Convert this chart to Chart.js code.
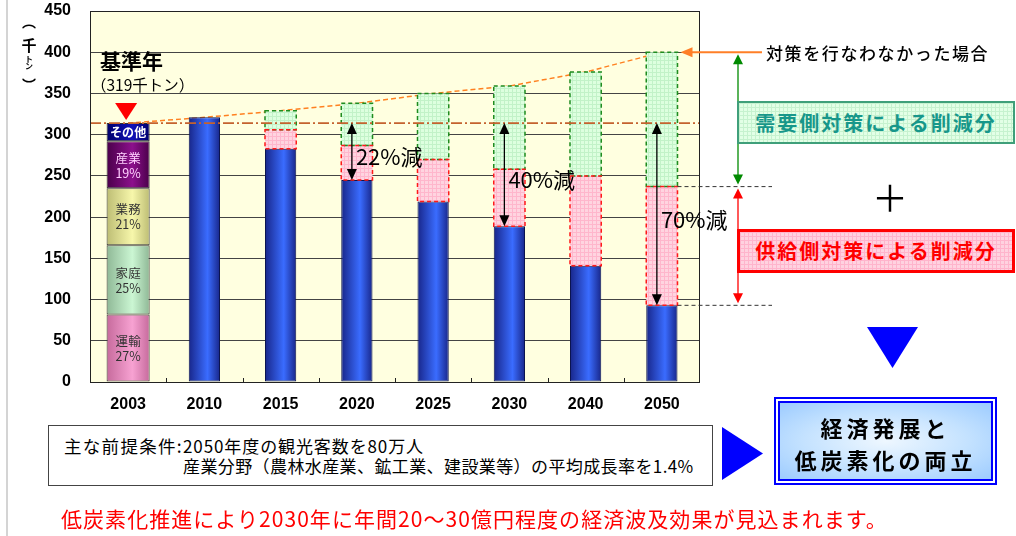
<!DOCTYPE html>
<html lang="ja">
<head>
<meta charset="utf-8">
<title>CO2排出量の将来推計</title>
<script src="https://cdn.jsdelivr.net/npm/chart.js@4.4.1/dist/chart.umd.min.js"></script>
<style>
  body { margin: 0; background: #fff; }
  #page { position: relative; width: 1016px; height: 536px; overflow: hidden; font-family: "Noto Sans CJK JP", sans-serif; color: #000; }
  #chart { position: absolute; left: 0; top: 0; }
  .abs { position: absolute; white-space: nowrap; }
  .yt { position: absolute; left: 19px; width: 20px; text-align: center; font-weight: bold; }
  .gridbg { background-size: 4px 4px; }
</style>
</head>
<body>
<div id="page">
  <div class="abs" style="left:6px;top:0;width:2px;height:536px;background:#d4d4d4"></div>
  <canvas id="chart" width="1016" height="536"></canvas>

  <!-- y axis unit -->
  <div class="yt" style="top:13px;font-size:14px;line-height:16px">︵</div>
  <div class="yt" style="top:37px;font-size:15px;line-height:16px">千</div>
  <div class="yt" style="top:55px;font-size:8px;line-height:7px">ト<br>ン</div>
  <div class="yt" style="top:76px;font-size:14px;line-height:16px">︶</div>

  <div class="abs" style="left:100px;top:47px;font-size:21px;font-weight:bold;line-height:26px">基準年</div>
  <div class="abs" style="left:91px;top:74px;font-size:15.5px;line-height:20px">（319千トン）</div>

  <div class="abs" style="left:766px;top:42px;font-size:17px;font-weight:500;line-height:22px;letter-spacing:1.6px">対策を行なわなかった場合</div>

  <div class="abs gridbg" style="left:737px;top:101px;width:274px;height:39px;border:2px solid #3f9f7a;background-color:#e2ffe6;background-image:linear-gradient(#c6f2cf 1px,transparent 1px),linear-gradient(90deg,#c6f2cf 1px,transparent 1px);
    font-size:20px;font-weight:bold;color:#17978a;line-height:39px;text-align:center;letter-spacing:2px">需要側対策による削減分</div>

  <div class="abs" style="left:872px;top:174px;font-size:36px;line-height:44px">＋</div>

  <div class="abs gridbg" style="left:737px;top:229px;width:272px;height:38px;border:3px solid #ff0000;background-color:#ffd2e0;background-image:linear-gradient(#ffb4cc 1px,transparent 1px),linear-gradient(90deg,#ffb4cc 1px,transparent 1px);
    font-size:20px;font-weight:bold;color:#ff0000;line-height:38px;text-align:center;letter-spacing:2px">供給側対策による削減分</div>

  <svg class="abs" style="left:0;top:0" width="1016" height="536">
    <polygon points="867,327 918,327 892.5,368" fill="#0000ff"/>
    <polygon points="722,427 722,480 763,453.5" fill="#0000ff"/>
  </svg>

  <div class="abs" style="left:774px;top:397px;width:211px;height:76px;border:6px double #0000ff;background-clip:padding-box;
    background-image:radial-gradient(ellipse at center,#eef7ff 0%,#c4e2ff 55%,#9ccbff 100%);text-align:center;font-size:22px;font-weight:bold;line-height:32px;letter-spacing:4px">
    <div style="margin-top:8px">経済発展と</div>
    <div>低炭素化の両立</div>
  </div>

  <div class="abs" style="left:48px;top:425px;width:663px;height:59px;border:1px solid #444;background:#fff"></div>
  <div class="abs" style="left:64px;top:436px;font-size:17.5px;line-height:20px;letter-spacing:1.3px">主な前提条件:</div>
  <div class="abs" style="left:183px;top:436px;font-size:17px;line-height:20px;letter-spacing:0.4px"><span style="letter-spacing:0.9px">2050年度の観光客数を80万人</span><br>産業分野（農林水産業、鉱工業、建設業等）の平均成長率を1.4%</div>

  <div class="abs" style="left:61px;top:505px;font-size:21px;line-height:26px;color:#ff0000;letter-spacing:1.05px">低炭素化推進により2030年に年間20～30億円程度の経済波及効果が見込まれます。</div>
</div>

<script>
// categories
const years = ['2003', '2010', '2015', '2020', '2025', '2030', '2040', '2050'];

// 2003 base year breakdown (千トン), bottom to top
const baseParts = ['運輸', '家庭', '業務', '産業', 'その他'];
const baseShares = ['27%', '25%', '21%', '19%', ''];
const baseValues = [82, 84, 69, 57, 22];

// emissions with measures (blue bars)
const withMeasures = [null, 321, 283, 245, 219, 189, 141, 93];
// top of the supply-side reduction (red boxes)
const supplyTop = [null, null, 306, 287, 270, 258, 250, 237];
// no measures case (green box tops + orange dashed line)
const noMeasures = [314, 321, 329, 338, 350, 359, 376, 400];

// reduction labels
const cutLabels = [null, null, null, '22%減', null, '40%減', null, '70%減'];

const baseTotal = baseValues.reduce((a, b) => a + b, 0);

const partColors = [
  ['#c66a9c', '#f7a2d2'],
  ['#8fb896', '#cbf6d3'],
  ['#bdbd74', '#f7f7ab'],
  ['#4a004a', '#8c108c'],
  ['#00006a', '#1010b8']
];
const partText = ['#333', '#333', '#333', '#ffd0ff', '#ffffff'];

function hGrad(edge, mid, pct) {
  return (c) => {
    const ch = c.chart;
    const xs = ch.scales && ch.scales.x;
    if (c.type !== 'data' || !xs || !ch.chartArea) return mid;
    const w = (xs.width / years.length) * pct;
    const cx = xs.getPixelForValue(c.dataIndex);
    const g = ch.ctx.createLinearGradient(cx - w / 2, 0, cx + w / 2, 0);
    g.addColorStop(0, edge);
    g.addColorStop(0.6, mid);
    g.addColorStop(1, edge);
    return g;
  };
}

function gridPattern(bg, line) {
  const c = document.createElement('canvas');
  c.width = 4; c.height = 4;
  const g = c.getContext('2d');
  g.fillStyle = bg; g.fillRect(0, 0, 4, 4);
  g.fillStyle = line; g.fillRect(0, 0, 4, 1); g.fillRect(0, 0, 1, 4);
  return g.createPattern(c, 'repeat');
}

const BASE_PCT = 0.565;
const BAR_PCT = 0.41;

const datasets = baseParts.map((name, k) => ({
  label: name,
  data: years.map((y, i) => i === 0 ? baseValues[k] : null),
  backgroundColor: hGrad(partColors[k][0], partColors[k][1], BASE_PCT),
  borderColor: '#333',
  borderWidth: 1,
  borderSkipped: false,
  barPercentage: BASE_PCT,
  categoryPercentage: 1
}));

datasets.push({
  label: '対策後',
  data: withMeasures,
  backgroundColor: hGrad('#18268a', '#3a6cff', BAR_PCT),
  borderColor: '#0b1450',
  borderWidth: 1,
  borderSkipped: false,
  barPercentage: BAR_PCT,
  categoryPercentage: 1
});
datasets.push({
  label: '供給側',
  data: years.map((y, i) => supplyTop[i] != null ? supplyTop[i] - withMeasures[i] : null),
  backgroundColor: gridPattern('#ffd4e0', '#ffb6cc'),
  borderWidth: 0,
  barPercentage: BAR_PCT,
  categoryPercentage: 1
});
datasets.push({
  label: '需要側',
  data: years.map((y, i) => supplyTop[i] != null ? noMeasures[i] - supplyTop[i] : null),
  backgroundColor: gridPattern('#ddffdf', '#c2f2c8'),
  borderWidth: 0,
  barPercentage: BAR_PCT,
  categoryPercentage: 1
});
datasets.push({
  type: 'line',
  label: '対策なし',
  data: noMeasures,
  borderColor: '#ff8020',
  borderWidth: 1.5,
  borderDash: [5, 3],
  pointRadius: 0,
  fill: false,
  tension: 0,
  order: 10
});

function arrowHead(ctx, x, y, dx, dy, len, half, color) {
  // tip at (x,y), pointing along (dx,dy)
  ctx.fillStyle = color;
  ctx.beginPath();
  ctx.moveTo(x, y);
  ctx.lineTo(x - dx * len - dy * half, y - dy * len + dx * half);
  ctx.lineTo(x - dx * len + dy * half, y - dy * len - dx * half);
  ctx.closePath();
  ctx.fill();
}

function vArrow(ctx, x, yTop, yBot, color, len, half) {
  ctx.save();
  ctx.strokeStyle = color;
  ctx.lineWidth = 1.3;
  ctx.setLineDash([]);
  ctx.beginPath();
  ctx.moveTo(x, yTop + len - 1);
  ctx.lineTo(x, yBot - len + 1);
  ctx.stroke();
  arrowHead(ctx, x, yTop, 0, -1, len, half, color);
  arrowHead(ctx, x, yBot, 0, 1, len, half, color);
  ctx.restore();
}

const decor = {
  id: 'decor',
  beforeDraw(chart) {
    const { ctx, chartArea: a } = chart;
    ctx.save();
    ctx.fillStyle = '#ffffe0';
    ctx.fillRect(a.left, a.top, a.right - a.left, a.bottom - a.top);
    ctx.restore();
  },
  afterDatasetsDraw(chart) {
    const { ctx, chartArea: a } = chart;
    const ys = chart.scales.y;
    const xs = chart.scales.x;
    const nBase = baseParts.length;
    const blueMeta = chart.getDatasetMeta(nBase);
    const redMeta = chart.getDatasetMeta(nBase + 1);
    const greenMeta = chart.getDatasetMeta(nBase + 2);

    ctx.save();
    // dashed outlines of reduction boxes
    ctx.lineWidth = 1.5;
    ctx.setLineDash([4, 3]);
    [[greenMeta, '#1f8c1f'], [redMeta, '#ff1a1a']].forEach(([meta, col]) => {
      ctx.strokeStyle = col;
      meta.data.forEach((el, i) => {
        if (chart.data.datasets[meta.index].data[i] == null) return;
        const w = el.width;
        ctx.strokeRect(el.x - w / 2, el.y, w, el.base - el.y);
      });
    });

    // base year dash-dot line
    const yb = ys.getPixelForValue(baseTotal);
    ctx.strokeStyle = '#c4622e';
    ctx.lineWidth = 1.6;
    ctx.setLineDash([11, 3, 2, 3]);
    ctx.beginPath();
    ctx.moveTo(a.left, yb);
    ctx.lineTo(a.right, yb);
    ctx.stroke();

    // plot frame and small category ticks
    ctx.setLineDash([]);
    ctx.strokeStyle = '#222';
    ctx.lineWidth = 1;
    ctx.strokeRect(a.left + 0.5, a.top + 0.5, a.right - a.left - 1, a.bottom - a.top);
    const step = (a.right - a.left) / years.length;
    ctx.beginPath();
    for (let i = 1; i < years.length; i++) {
      const tx = Math.round(xs.getPixelForValue(i) - step / 2) + 0.5;
      ctx.moveTo(tx, a.bottom);
      ctx.lineTo(tx, a.bottom - 4);
    }
    ctx.stroke();

    // 2003 segment labels
    ctx.textAlign = 'center';
    ctx.textBaseline = 'middle';
    for (let k = 0; k < nBase; k++) {
      const el = chart.getDatasetMeta(k).data[0];
      const cy = (el.y + el.base) / 2;
      ctx.fillStyle = partText[k];
      if (baseShares[k]) {
        ctx.font = '12.5px "Noto Sans CJK JP"';
        ctx.fillText(baseParts[k], el.x, cy - 7);
        ctx.fillText(baseShares[k], el.x, cy + 8);
      } else {
        ctx.font = 'bold 12px "Noto Sans CJK JP"';
        ctx.fillText(baseParts[k], el.x, cy);
      }
    }

    // red marker above base year
    const topEl = chart.getDatasetMeta(nBase - 1).data[0];
    ctx.fillStyle = '#ff0000';
    ctx.beginPath();
    ctx.moveTo(topEl.x - 13, topEl.y - 20);
    ctx.lineTo(topEl.x + 9, topEl.y - 20);
    ctx.lineTo(topEl.x - 2, topEl.y - 3);
    ctx.closePath();
    ctx.fill();

    // reduction arrows
    cutLabels.forEach((lab, i) => {
      if (!lab) return;
      const el = blueMeta.data[i];
      const x = el.x - 5;
      vArrow(ctx, x, yb, el.y, '#000', 11, 5);
      ctx.fillStyle = '#000';
      ctx.font = '22px "Noto Sans CJK JP"';
      ctx.textAlign = 'left';
      ctx.textBaseline = 'middle';
      ctx.fillText(lab, x + 4, (yb + el.y) / 2 + 5);
    });

    // right-side guides for the last year
    const last = years.length - 1;
    const bl = blueMeta.data[last];
    const right = bl.x + bl.width / 2;
    const yTop = ys.getPixelForValue(noMeasures[last]);
    const yMid = ys.getPixelForValue(supplyTop[last]);
    const yLow = ys.getPixelForValue(withMeasures[last]);
    const ax = a.right + 38;

    ctx.strokeStyle = '#333';
    ctx.lineWidth = 1;
    ctx.setLineDash([4, 3]);
    [yMid, yLow].forEach(y => {
      ctx.beginPath();
      ctx.moveTo(right, y);
      ctx.lineTo(a.right + 72, y);
      ctx.stroke();
    });
    ctx.setLineDash([]);

    // orange arrow to no-measure point
    ctx.strokeStyle = '#ff7f27';
    ctx.lineWidth = 2;
    ctx.beginPath();
    ctx.moveTo(a.right + 62, yTop);
    ctx.lineTo(right + 12, yTop);
    ctx.stroke();
    arrowHead(ctx, right + 3, yTop, -1, 0, 12, 5, '#ff7f27');

    vArrow(ctx, ax, yTop + 2, yMid - 2, '#008a00', 10, 5);
    vArrow(ctx, ax, yMid + 2, yLow - 2, '#ff0000', 10, 5);

    ctx.restore();
  }
};

new Chart(document.getElementById('chart'), {
  type: 'bar',
  data: { labels: years, datasets: datasets },
  options: {
    responsive: false,
    animation: false,
    devicePixelRatio: 1,
    layout: { padding: { left: 0, right: 316, top: 11, bottom: 0 } },
    plugins: { legend: { display: false }, tooltip: { enabled: false } },
    scales: {
      x: {
        stacked: true,
        grid: { display: false, drawTicks: false },
        border: { display: false },
        ticks: { color: '#000', padding: 13, font: { family: 'Liberation Sans', size: 16, weight: 'bold' } },
        afterFit(s) { s.height = 154; }
      },
      y: {
        stacked: true,
        min: 0,
        max: 450,
        ticks: { stepSize: 50, color: '#000', padding: 19, font: { family: 'Liberation Sans', size: 16, weight: 'bold' } },
        grid: { color: '#444', drawTicks: false },
        border: { display: false },
        afterFit(s) {
          s.width = 90;
          s.paddingTop = 0;
          s.paddingBottom = 0;
        }
      }
    }
  },
  plugins: [decor]
});
</script>
</body>
</html>
